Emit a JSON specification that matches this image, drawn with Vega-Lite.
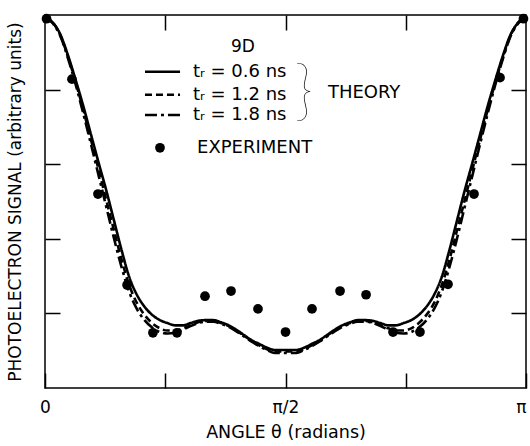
{
  "$schema": "https://vega.github.io/schema/vega-lite/v6.json",
  "width": 481,
  "height": 373,
  "autosize": {"type": "none"},
  "padding": {"left": 45, "top": 15, "right": 4, "bottom": 58},
  "background": "white",
  "config": {
    "view": {"stroke": "black", "strokeWidth": 1.5},
    "font": "DejaVu Sans",
    "axis": {
      "domain": false, "grid": false, "tickColor": "black", "tickWidth": 1.5,
      "labelColor": "black", "titleColor": "black",
      "labelFont": "DejaVu Sans", "titleFont": "DejaVu Sans", "titleFontWeight": "normal"
    }
  },
  "datasets": {
    "theory": [
      {"series": "0.6 ns", "theta": 0, "signal": 4.97},
      {"series": "0.6 ns", "theta": 0.05, "signal": 4.90},
      {"series": "0.6 ns", "theta": 0.10, "signal": 4.74},
      {"series": "0.6 ns", "theta": 0.15, "signal": 4.46},
      {"series": "0.6 ns", "theta": 0.20, "signal": 4.13},
      {"series": "0.6 ns", "theta": 0.25, "signal": 3.78},
      {"series": "0.6 ns", "theta": 0.30, "signal": 3.40},
      {"series": "0.6 ns", "theta": 0.35, "signal": 3.02},
      {"series": "0.6 ns", "theta": 0.40, "signal": 2.65},
      {"series": "0.6 ns", "theta": 0.45, "signal": 2.25},
      {"series": "0.6 ns", "theta": 0.50, "signal": 1.85},
      {"series": "0.6 ns", "theta": 0.55, "signal": 1.49},
      {"series": "0.6 ns", "theta": 0.60, "signal": 1.25},
      {"series": "0.6 ns", "theta": 0.65, "signal": 1.09},
      {"series": "0.6 ns", "theta": 0.70, "signal": 0.98},
      {"series": "0.6 ns", "theta": 0.75, "signal": 0.91},
      {"series": "0.6 ns", "theta": 0.80, "signal": 0.87},
      {"series": "0.6 ns", "theta": 0.85, "signal": 0.84},
      {"series": "0.6 ns", "theta": 0.90, "signal": 0.84},
      {"series": "0.6 ns", "theta": 0.95, "signal": 0.87},
      {"series": "0.6 ns", "theta": 1.00, "signal": 0.90},
      {"series": "0.6 ns", "theta": 1.05, "signal": 0.91},
      {"series": "0.6 ns", "theta": 1.10, "signal": 0.91},
      {"series": "0.6 ns", "theta": 1.15, "signal": 0.88},
      {"series": "0.6 ns", "theta": 1.20, "signal": 0.84},
      {"series": "0.6 ns", "theta": 1.25, "signal": 0.78},
      {"series": "0.6 ns", "theta": 1.30, "signal": 0.71},
      {"series": "0.6 ns", "theta": 1.35, "signal": 0.64},
      {"series": "0.6 ns", "theta": 1.40, "signal": 0.59},
      {"series": "0.6 ns", "theta": 1.45, "signal": 0.54},
      {"series": "0.6 ns", "theta": 1.50, "signal": 0.51},
      {"series": "0.6 ns", "theta": 1.5708, "signal": 0.51},
      {"series": "0.6 ns", "theta": 1.6416, "signal": 0.51},
      {"series": "0.6 ns", "theta": 1.6916, "signal": 0.54},
      {"series": "0.6 ns", "theta": 1.7416, "signal": 0.59},
      {"series": "0.6 ns", "theta": 1.7916, "signal": 0.64},
      {"series": "0.6 ns", "theta": 1.8416, "signal": 0.71},
      {"series": "0.6 ns", "theta": 1.8916, "signal": 0.78},
      {"series": "0.6 ns", "theta": 1.9416, "signal": 0.84},
      {"series": "0.6 ns", "theta": 1.9916, "signal": 0.88},
      {"series": "0.6 ns", "theta": 2.0416, "signal": 0.91},
      {"series": "0.6 ns", "theta": 2.0916, "signal": 0.91},
      {"series": "0.6 ns", "theta": 2.1416, "signal": 0.90},
      {"series": "0.6 ns", "theta": 2.1916, "signal": 0.87},
      {"series": "0.6 ns", "theta": 2.2416, "signal": 0.84},
      {"series": "0.6 ns", "theta": 2.2916, "signal": 0.84},
      {"series": "0.6 ns", "theta": 2.3416, "signal": 0.87},
      {"series": "0.6 ns", "theta": 2.3916, "signal": 0.91},
      {"series": "0.6 ns", "theta": 2.4416, "signal": 0.98},
      {"series": "0.6 ns", "theta": 2.4916, "signal": 1.09},
      {"series": "0.6 ns", "theta": 2.5416, "signal": 1.25},
      {"series": "0.6 ns", "theta": 2.5916, "signal": 1.49},
      {"series": "0.6 ns", "theta": 2.6416, "signal": 1.85},
      {"series": "0.6 ns", "theta": 2.6916, "signal": 2.25},
      {"series": "0.6 ns", "theta": 2.7416, "signal": 2.65},
      {"series": "0.6 ns", "theta": 2.7916, "signal": 3.02},
      {"series": "0.6 ns", "theta": 2.8416, "signal": 3.40},
      {"series": "0.6 ns", "theta": 2.8916, "signal": 3.78},
      {"series": "0.6 ns", "theta": 2.9416, "signal": 4.13},
      {"series": "0.6 ns", "theta": 2.9916, "signal": 4.46},
      {"series": "0.6 ns", "theta": 3.0416, "signal": 4.74},
      {"series": "0.6 ns", "theta": 3.0916, "signal": 4.90},
      {"series": "0.6 ns", "theta": 3.1416, "signal": 4.97},

      {"series": "1.2 ns", "theta": 0, "signal": 4.97},
      {"series": "1.2 ns", "theta": 0.05, "signal": 4.90},
      {"series": "1.2 ns", "theta": 0.10, "signal": 4.73},
      {"series": "1.2 ns", "theta": 0.15, "signal": 4.44},
      {"series": "1.2 ns", "theta": 0.20, "signal": 4.10},
      {"series": "1.2 ns", "theta": 0.25, "signal": 3.73},
      {"series": "1.2 ns", "theta": 0.30, "signal": 3.33},
      {"series": "1.2 ns", "theta": 0.35, "signal": 2.93},
      {"series": "1.2 ns", "theta": 0.40, "signal": 2.52},
      {"series": "1.2 ns", "theta": 0.45, "signal": 2.12},
      {"series": "1.2 ns", "theta": 0.50, "signal": 1.72},
      {"series": "1.2 ns", "theta": 0.55, "signal": 1.38},
      {"series": "1.2 ns", "theta": 0.60, "signal": 1.14},
      {"series": "1.2 ns", "theta": 0.65, "signal": 0.98},
      {"series": "1.2 ns", "theta": 0.70, "signal": 0.87},
      {"series": "1.2 ns", "theta": 0.75, "signal": 0.80},
      {"series": "1.2 ns", "theta": 0.80, "signal": 0.77},
      {"series": "1.2 ns", "theta": 0.85, "signal": 0.77},
      {"series": "1.2 ns", "theta": 0.90, "signal": 0.80},
      {"series": "1.2 ns", "theta": 0.95, "signal": 0.84},
      {"series": "1.2 ns", "theta": 1.00, "signal": 0.88},
      {"series": "1.2 ns", "theta": 1.05, "signal": 0.90},
      {"series": "1.2 ns", "theta": 1.10, "signal": 0.90},
      {"series": "1.2 ns", "theta": 1.15, "signal": 0.87},
      {"series": "1.2 ns", "theta": 1.20, "signal": 0.83},
      {"series": "1.2 ns", "theta": 1.25, "signal": 0.77},
      {"series": "1.2 ns", "theta": 1.30, "signal": 0.70},
      {"series": "1.2 ns", "theta": 1.35, "signal": 0.63},
      {"series": "1.2 ns", "theta": 1.40, "signal": 0.57},
      {"series": "1.2 ns", "theta": 1.45, "signal": 0.52},
      {"series": "1.2 ns", "theta": 1.50, "signal": 0.49},
      {"series": "1.2 ns", "theta": 1.5708, "signal": 0.49},
      {"series": "1.2 ns", "theta": 1.6416, "signal": 0.49},
      {"series": "1.2 ns", "theta": 1.6916, "signal": 0.52},
      {"series": "1.2 ns", "theta": 1.7416, "signal": 0.57},
      {"series": "1.2 ns", "theta": 1.7916, "signal": 0.63},
      {"series": "1.2 ns", "theta": 1.8416, "signal": 0.70},
      {"series": "1.2 ns", "theta": 1.8916, "signal": 0.77},
      {"series": "1.2 ns", "theta": 1.9416, "signal": 0.83},
      {"series": "1.2 ns", "theta": 1.9916, "signal": 0.87},
      {"series": "1.2 ns", "theta": 2.0416, "signal": 0.90},
      {"series": "1.2 ns", "theta": 2.0916, "signal": 0.90},
      {"series": "1.2 ns", "theta": 2.1416, "signal": 0.88},
      {"series": "1.2 ns", "theta": 2.1916, "signal": 0.84},
      {"series": "1.2 ns", "theta": 2.2416, "signal": 0.80},
      {"series": "1.2 ns", "theta": 2.2916, "signal": 0.77},
      {"series": "1.2 ns", "theta": 2.3416, "signal": 0.77},
      {"series": "1.2 ns", "theta": 2.3916, "signal": 0.80},
      {"series": "1.2 ns", "theta": 2.4416, "signal": 0.87},
      {"series": "1.2 ns", "theta": 2.4916, "signal": 0.98},
      {"series": "1.2 ns", "theta": 2.5416, "signal": 1.14},
      {"series": "1.2 ns", "theta": 2.5916, "signal": 1.38},
      {"series": "1.2 ns", "theta": 2.6416, "signal": 1.72},
      {"series": "1.2 ns", "theta": 2.6916, "signal": 2.12},
      {"series": "1.2 ns", "theta": 2.7416, "signal": 2.52},
      {"series": "1.2 ns", "theta": 2.7916, "signal": 2.93},
      {"series": "1.2 ns", "theta": 2.8416, "signal": 3.33},
      {"series": "1.2 ns", "theta": 2.8916, "signal": 3.73},
      {"series": "1.2 ns", "theta": 2.9416, "signal": 4.10},
      {"series": "1.2 ns", "theta": 2.9916, "signal": 4.44},
      {"series": "1.2 ns", "theta": 3.0416, "signal": 4.73},
      {"series": "1.2 ns", "theta": 3.0916, "signal": 4.90},
      {"series": "1.2 ns", "theta": 3.1416, "signal": 4.97},

      {"series": "1.8 ns", "theta": 0, "signal": 4.97},
      {"series": "1.8 ns", "theta": 0.05, "signal": 4.89},
      {"series": "1.8 ns", "theta": 0.10, "signal": 4.72},
      {"series": "1.8 ns", "theta": 0.15, "signal": 4.42},
      {"series": "1.8 ns", "theta": 0.20, "signal": 4.07},
      {"series": "1.8 ns", "theta": 0.25, "signal": 3.68},
      {"series": "1.8 ns", "theta": 0.30, "signal": 3.27},
      {"series": "1.8 ns", "theta": 0.35, "signal": 2.85},
      {"series": "1.8 ns", "theta": 0.40, "signal": 2.43},
      {"series": "1.8 ns", "theta": 0.45, "signal": 2.01},
      {"series": "1.8 ns", "theta": 0.50, "signal": 1.62},
      {"series": "1.8 ns", "theta": 0.55, "signal": 1.29},
      {"series": "1.8 ns", "theta": 0.60, "signal": 1.06},
      {"series": "1.8 ns", "theta": 0.65, "signal": 0.91},
      {"series": "1.8 ns", "theta": 0.70, "signal": 0.81},
      {"series": "1.8 ns", "theta": 0.75, "signal": 0.75},
      {"series": "1.8 ns", "theta": 0.80, "signal": 0.73},
      {"series": "1.8 ns", "theta": 0.85, "signal": 0.74},
      {"series": "1.8 ns", "theta": 0.90, "signal": 0.78},
      {"series": "1.8 ns", "theta": 0.95, "signal": 0.83},
      {"series": "1.8 ns", "theta": 1.00, "signal": 0.87},
      {"series": "1.8 ns", "theta": 1.05, "signal": 0.89},
      {"series": "1.8 ns", "theta": 1.10, "signal": 0.89},
      {"series": "1.8 ns", "theta": 1.15, "signal": 0.86},
      {"series": "1.8 ns", "theta": 1.20, "signal": 0.82},
      {"series": "1.8 ns", "theta": 1.25, "signal": 0.76},
      {"series": "1.8 ns", "theta": 1.30, "signal": 0.69},
      {"series": "1.8 ns", "theta": 1.35, "signal": 0.62},
      {"series": "1.8 ns", "theta": 1.40, "signal": 0.56},
      {"series": "1.8 ns", "theta": 1.45, "signal": 0.51},
      {"series": "1.8 ns", "theta": 1.50, "signal": 0.47},
      {"series": "1.8 ns", "theta": 1.5708, "signal": 0.47},
      {"series": "1.8 ns", "theta": 1.6416, "signal": 0.47},
      {"series": "1.8 ns", "theta": 1.6916, "signal": 0.51},
      {"series": "1.8 ns", "theta": 1.7416, "signal": 0.56},
      {"series": "1.8 ns", "theta": 1.7916, "signal": 0.62},
      {"series": "1.8 ns", "theta": 1.8416, "signal": 0.69},
      {"series": "1.8 ns", "theta": 1.8916, "signal": 0.76},
      {"series": "1.8 ns", "theta": 1.9416, "signal": 0.82},
      {"series": "1.8 ns", "theta": 1.9916, "signal": 0.86},
      {"series": "1.8 ns", "theta": 2.0416, "signal": 0.89},
      {"series": "1.8 ns", "theta": 2.0916, "signal": 0.89},
      {"series": "1.8 ns", "theta": 2.1416, "signal": 0.87},
      {"series": "1.8 ns", "theta": 2.1916, "signal": 0.83},
      {"series": "1.8 ns", "theta": 2.2416, "signal": 0.78},
      {"series": "1.8 ns", "theta": 2.2916, "signal": 0.74},
      {"series": "1.8 ns", "theta": 2.3416, "signal": 0.73},
      {"series": "1.8 ns", "theta": 2.3916, "signal": 0.75},
      {"series": "1.8 ns", "theta": 2.4416, "signal": 0.81},
      {"series": "1.8 ns", "theta": 2.4916, "signal": 0.91},
      {"series": "1.8 ns", "theta": 2.5416, "signal": 1.06},
      {"series": "1.8 ns", "theta": 2.5916, "signal": 1.29},
      {"series": "1.8 ns", "theta": 2.6416, "signal": 1.62},
      {"series": "1.8 ns", "theta": 2.6916, "signal": 2.01},
      {"series": "1.8 ns", "theta": 2.7416, "signal": 2.43},
      {"series": "1.8 ns", "theta": 2.7916, "signal": 2.85},
      {"series": "1.8 ns", "theta": 2.8416, "signal": 3.27},
      {"series": "1.8 ns", "theta": 2.8916, "signal": 3.68},
      {"series": "1.8 ns", "theta": 2.9416, "signal": 4.07},
      {"series": "1.8 ns", "theta": 2.9916, "signal": 4.42},
      {"series": "1.8 ns", "theta": 3.0416, "signal": 4.72},
      {"series": "1.8 ns", "theta": 3.0916, "signal": 4.89},
      {"series": "1.8 ns", "theta": 3.1416, "signal": 4.97}
    ],
    "experiment": [
      {"theta": 0.01, "signal": 4.95},
      {"theta": 0.176, "signal": 4.14},
      {"theta": 0.346, "signal": 2.60},
      {"theta": 0.536, "signal": 1.38},
      {"theta": 0.705, "signal": 0.74},
      {"theta": 0.862, "signal": 0.74},
      {"theta": 1.045, "signal": 1.23},
      {"theta": 1.215, "signal": 1.30},
      {"theta": 1.391, "signal": 1.06},
      {"theta": 1.571, "signal": 0.75},
      {"theta": 1.744, "signal": 1.06},
      {"theta": 1.927, "signal": 1.30},
      {"theta": 2.097, "signal": 1.25},
      {"theta": 2.273, "signal": 0.75},
      {"theta": 2.449, "signal": 0.75},
      {"theta": 2.632, "signal": 1.39},
      {"theta": 2.802, "signal": 2.60},
      {"theta": 2.972, "signal": 4.16},
      {"theta": 3.125, "signal": 4.95}
    ],
    "keylines": [
      {"series": "0.6 ns", "theta": 0.653, "signal": 4.24},
      {"series": "0.6 ns", "theta": 0.882, "signal": 4.24},
      {"series": "1.2 ns", "theta": 0.653, "signal": 3.93},
      {"series": "1.2 ns", "theta": 0.882, "signal": 3.93},
      {"series": "1.8 ns", "theta": 0.653, "signal": 3.66},
      {"series": "1.8 ns", "theta": 0.882, "signal": 3.66}
    ],
    "keytext": [
      {"label": "tᵣ = 0.6 ns", "theta": 0.967, "signal": 4.24},
      {"label": "tᵣ = 1.2 ns", "theta": 0.967, "signal": 3.93},
      {"label": "tᵣ = 1.8 ns", "theta": 0.967, "signal": 3.66},
      {"label": "EXPERIMENT", "theta": 0.993, "signal": 3.22},
      {"label": "THEORY", "theta": 1.848, "signal": 3.95}
    ],
    "keytitle": [
      {"label": "9D", "theta": 1.293, "signal": 4.57}
    ],
    "keybrace": [
      {"label": "}", "theta": 1.69, "signal": 3.95}
    ],
    "keydot": [
      {"theta": 0.751, "signal": 3.22}
    ]
  },
  "layer": [
    {
      "data": {"name": "theory"},
      "mark": {"type": "line", "color": "black", "strokeWidth": 2.6, "interpolate": "monotone"},
      "encoding": {
        "x": {
          "field": "theta", "type": "quantitative",
          "scale": {"domain": [0, 3.14159], "nice": false, "zero": false},
          "axis": {
            "orient": "bottom",
            "values": [0, 0.7854, 1.5708, 2.3562, 3.14159],
            "labelExpr": "datum.value < 0.1 ? '0' : (abs(datum.value - 1.5708) < 0.01 ? 'π/2' : (datum.value > 3 ? 'π' : ''))",
            "labelAlign": {"condition": {"test": "datum.value > 3", "value": "right"}, "value": "center"},
            "tickSize": -15,
            "labelPadding": 26,
            "labelFontSize": 17,
            "labelFlush": false,
            "labelOverlap": false,
            "title": "ANGLE θ (radians)",
            "titleFontSize": 17.5,
            "titlePadding": 8
          }
        },
        "y": {
          "field": "signal", "type": "quantitative",
          "scale": {"domain": [0, 5], "nice": false},
          "axis": {
            "orient": "left",
            "values": [1, 2, 3, 4],
            "labels": false,
            "tickSize": -15,
            "title": "PHOTOELECTRON SIGNAL (arbitrary units)",
            "titleFontSize": 17,
            "titlePadding": 20
          }
        },
        "strokeDash": {
          "field": "series", "type": "nominal",
          "scale": {"domain": ["0.6 ns", "1.2 ns", "1.8 ns"], "range": [[1, 0], [7, 4], [12, 4, 3, 4]]},
          "legend": null
        }
      }
    },
    {
      "data": {"name": "experiment"},
      "mark": {"type": "circle", "color": "black", "opacity": 1, "size": 95},
      "encoding": {
        "x": {
          "field": "theta", "type": "quantitative",
          "scale": {"domain": [0, 3.14159], "nice": false, "zero": false},
          "axis": {"orient": "top", "values": [0.7854, 1.5708, 2.3562], "labels": false, "tickSize": -15, "title": null}
        },
        "y": {
          "field": "signal", "type": "quantitative",
          "scale": {"domain": [0, 5], "nice": false},
          "axis": {"orient": "right", "values": [1, 2, 3, 4], "labels": false, "tickSize": -15, "title": null}
        }
      }
    },
    {
      "data": {"name": "keylines"},
      "mark": {"type": "line", "color": "black", "strokeWidth": 2.6},
      "encoding": {
        "x": {"field": "theta", "type": "quantitative", "axis": null},
        "y": {"field": "signal", "type": "quantitative", "axis": null},
        "strokeDash": {
          "field": "series", "type": "nominal",
          "scale": {"domain": ["0.6 ns", "1.2 ns", "1.8 ns"], "range": [[1, 0], [7, 4], [12, 4, 3, 4]]},
          "legend": null
        }
      }
    },
    {
      "data": {"name": "keytext"},
      "mark": {"type": "text", "align": "left", "baseline": "middle", "fontSize": 18, "color": "black", "font": "DejaVu Sans"},
      "encoding": {
        "x": {"field": "theta", "type": "quantitative", "axis": null},
        "y": {"field": "signal", "type": "quantitative", "axis": null},
        "text": {"field": "label"}
      }
    },
    {
      "data": {"name": "keytitle"},
      "mark": {"type": "text", "align": "center", "baseline": "middle", "fontSize": 17, "color": "black", "font": "DejaVu Sans"},
      "encoding": {
        "x": {"field": "theta", "type": "quantitative", "axis": null},
        "y": {"field": "signal", "type": "quantitative", "axis": null},
        "text": {"field": "label"}
      }
    },
    {
      "data": {"name": "keybrace"},
      "mark": {"type": "text", "align": "center", "baseline": "middle", "fontSize": 66, "fontWeight": 200, "color": "black", "font": "Lato"},
      "encoding": {
        "x": {"field": "theta", "type": "quantitative", "axis": null},
        "y": {"field": "signal", "type": "quantitative", "axis": null},
        "text": {"field": "label"}
      }
    },
    {
      "data": {"name": "keydot"},
      "mark": {"type": "circle", "color": "black", "opacity": 1, "size": 95},
      "encoding": {
        "x": {"field": "theta", "type": "quantitative", "axis": null},
        "y": {"field": "signal", "type": "quantitative", "axis": null}
      }
    }
  ],
  "resolve": {"axis": {"x": "independent", "y": "independent"}}
}
